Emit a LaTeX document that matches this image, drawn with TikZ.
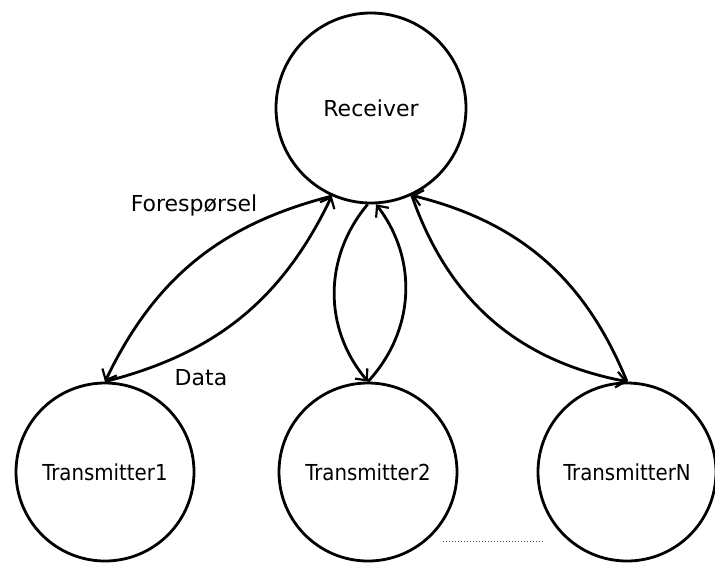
\documentclass[tikz,border=0pt]{standalone}
\usepackage{fontspec}
\setmainfont{DejaVu Sans}
\newfontfamily\narrowsans{DejaVu Sans Condensed}
\usetikzlibrary{arrows.meta}
\begin{document}
\begin{tikzpicture}[x=1pt,y=-1pt,
  station/.style={draw, circle, line width=2.8pt, inner sep=0pt,
                  font=\narrowsans\fontsize{22}{25}\selectfont},
  link/.style={line width=2.8pt,
               -{Straight Barb[length=9pt,width=16pt,line width=2.2pt]}},
  lbl/.style={font=\fontsize{22}{25}\selectfont, inner sep=0pt}]
  \useasboundingbox (0,0) rectangle (715,566);

  % stations
  \node[station, minimum size=190pt, font=\fontsize{22}{25}\selectfont]
       (R)  at (371,108) {Receiver};
  \node[station, minimum size=178pt] (T1) at (105,472) {Transmitter1};
  \node[station, minimum size=178pt] (T2) at (368,472) {Transmitter2};
  \node[station, minimum size=178pt] (TN) at (627,472) {TransmitterN};

  % request and data exchanges
  \draw[link] (R.246) to[bend right=25] (T1.90);
  \draw[link] (T1.90) to[bend right=25] (R.246);
  \draw[link] (R.268) to[bend right=40] (T2.90);
  \draw[link] (T2.90) to[bend right=40] (R.273);
  \draw[link] (R.295) to[bend right=30] (TN.90);
  \draw[link] (TN.90) to[bend right=27] (R.295);

  % edge labels
  \node[lbl] (lreq)  at (194,205) {Forespørsel};
  \node[lbl] (ldata) at (201,378) {Data};

  % further transmitters
  \coordinate (d1) at (443,541);
  \coordinate (d2) at (545,541);
  \draw[line width=1pt, dotted, black!70] (d1) -- (d2);
\end{tikzpicture}
\end{document}
